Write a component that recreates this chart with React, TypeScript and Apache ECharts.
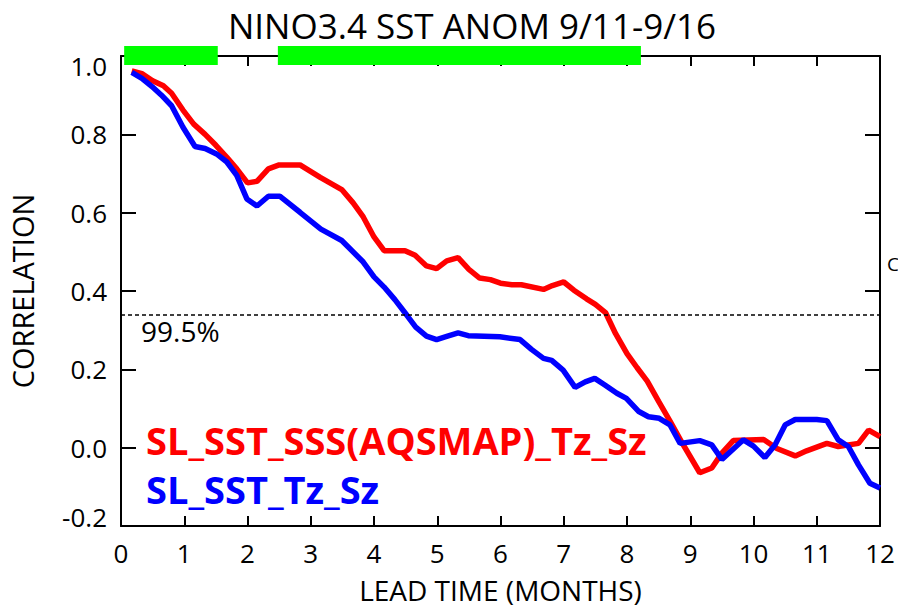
import React, { useEffect, useRef } from "react";
import * as echarts from "echarts";

const TITLE = "NINO3.4 SST ANOM 9/11-9/16";
const X_NAME = "LEAD TIME (MONTHS)";
const Y_NAME = "CORRELATION";
const RED_NAME = "SL_SST_SSS(AQSMAP)_Tz_Sz";
const BLUE_NAME = "SL_SST_Tz_Sz";
const SIG_LEVEL = 0.338;
const SIG_LABEL = "99.5%";

// significant-difference periods (months)
const greenBars: number[][] = [
  [0.05, 1.53],
  [2.48, 8.22],
];

const redSeries: number[][] = [
  [0.17, 0.962], [0.33, 0.955], [0.5, 0.937], [0.67, 0.924], [0.8, 0.905], [0.98, 0.862],
  [1.15, 0.826], [1.33, 0.8], [1.5, 0.772], [1.67, 0.742], [1.83, 0.712], [2.0, 0.676],
  [2.15, 0.68], [2.33, 0.712], [2.5, 0.722], [2.83, 0.722], [3.15, 0.69], [3.49, 0.659],
  [3.67, 0.625], [3.83, 0.589], [4.0, 0.538], [4.16, 0.503], [4.49, 0.503], [4.65, 0.491],
  [4.83, 0.464], [4.99, 0.457], [5.15, 0.477], [5.33, 0.485], [5.5, 0.455], [5.67, 0.433],
  [5.84, 0.429], [6.0, 0.42], [6.18, 0.416], [6.33, 0.416], [6.68, 0.404], [6.82, 0.414],
  [7.0, 0.423], [7.16, 0.402], [7.36, 0.38], [7.5, 0.366], [7.66, 0.345], [7.82, 0.291],
  [8.0, 0.24], [8.16, 0.204], [8.32, 0.17], [8.5, 0.118], [8.68, 0.068], [8.88, 0.01],
  [9.15, -0.064], [9.34, -0.052], [9.5, -0.014], [9.68, 0.018], [10.16, 0.021], [10.37, -0.002],
  [10.66, -0.021], [10.84, -0.008], [11.16, 0.011], [11.34, 0.003], [11.66, 0.011], [11.82, 0.045],
  [12.0, 0.028],
];

const blueSeries: number[][] = [
  [0.17, 0.958], [0.33, 0.943], [0.49, 0.922], [0.64, 0.9], [0.8, 0.873], [0.98, 0.818],
  [1.17, 0.769], [1.33, 0.764], [1.51, 0.75], [1.67, 0.73], [1.83, 0.695], [1.99, 0.635],
  [2.15, 0.617], [2.33, 0.642], [2.51, 0.642], [2.83, 0.601], [3.16, 0.558], [3.49, 0.529],
  [3.83, 0.474], [4.0, 0.436], [4.16, 0.41], [4.33, 0.378], [4.52, 0.338], [4.66, 0.308],
  [4.83, 0.285], [4.99, 0.276], [5.15, 0.284], [5.33, 0.293], [5.49, 0.286], [5.99, 0.283],
  [6.31, 0.276], [6.49, 0.251], [6.68, 0.228], [6.81, 0.223], [6.99, 0.198], [7.18, 0.154],
  [7.34, 0.168], [7.49, 0.177], [7.65, 0.16], [7.84, 0.139], [7.99, 0.126], [8.18, 0.093],
  [8.34, 0.079], [8.51, 0.075], [8.68, 0.058], [8.84, 0.011], [9.15, 0.018], [9.34, 0.007],
  [9.5, -0.03], [9.84, 0.02], [10.0, 0.004], [10.18, -0.025], [10.34, 0.007], [10.5, 0.058],
  [10.66, 0.072], [11.0, 0.072], [11.16, 0.069], [11.34, 0.02], [11.5, 0.003], [11.66, -0.044],
  [11.84, -0.091], [12.0, -0.103],
];

const X_MIN = 0;
const X_MAX = 12;
const X_STEP = 1;
const Y_MIN = -0.2;
const Y_MAX = 1.0;
const Y_STEP = 0.2;

const FONT = "'Open Sans', 'Noto Sans', sans-serif";

export default function App() {
  const ref = useRef<HTMLDivElement>(null);
  useEffect(() => {
    if (!ref.current) return;
    const chart = echarts.init(ref.current, null, { renderer: "svg" });
    const axisLine = { show: true, onZero: false, lineStyle: { color: "#000", width: 2 } };
    const xCommon = {
      type: "value" as const,
      min: X_MIN,
      max: X_MAX,
      interval: X_STEP,
      splitLine: { show: false },
      axisLine,
      axisTick: { show: true, inside: true, length: 10, lineStyle: { color: "#000", width: 2 } },
    };
    const yCommon = {
      type: "value" as const,
      min: Y_MIN,
      max: Y_MAX,
      interval: Y_STEP,
      splitLine: { show: false },
      axisLine,
      axisTick: { show: true, inside: true, length: 15, lineStyle: { color: "#000", width: 2 } },
    };
    const labelStyle = { color: "#000", fontSize: 26, fontFamily: FONT };
    chart.setOption({
      animation: false,
      backgroundColor: "#fff",
      textStyle: { fontFamily: FONT },
      grid: { left: 121, right: 18, top: 56, bottom: 83, containLabel: false },
      xAxis: [
        {
          ...xCommon,
          position: "bottom",
          axisLabel: { show: true, ...labelStyle, margin: 14 },
          name: X_NAME,
          nameLocation: "middle",
          nameGap: 50,
          nameTextStyle: { color: "#000", fontSize: 28, fontFamily: FONT },
        },
        { ...xCommon, position: "top", axisLabel: { show: false } },
      ],
      yAxis: [
        {
          ...yCommon,
          position: "left",
          axisLabel: {
            show: true,
            ...labelStyle,
            margin: 14,
            formatter: (v: number) => {
              const t = v.toFixed(1);
              if (Math.abs(v - Y_MAX) < 1e-9) return "{top|" + t + "}";
              if (Math.abs(v - Y_MIN) < 1e-9) return "{bot|" + t + "}";
              return t;
            },
            rich: {
              top: { ...labelStyle, padding: [20, 0, 0, 0] },
              bot: { ...labelStyle, padding: [0, 0, 18, 0] },
            },
          },
          name: Y_NAME,
          nameLocation: "middle",
          nameGap: 84,
          nameRotate: 90,
          nameTextStyle: { color: "#000", fontSize: 29, fontFamily: FONT },
        },
        { ...yCommon, position: "right", axisLabel: { show: false } },
      ],
      series: [
        {
          type: "line",
          name: RED_NAME,
          data: redSeries,
          showSymbol: false,
          lineStyle: { color: "#ff0000", width: 5.5 },
          itemStyle: { color: "#ff0000" },
          z: 3,
          markLine: {
            silent: true,
            symbol: "none",
            lineStyle: { color: "#000", type: [4, 3], width: 1.5 },
            label: {
              show: true,
              position: "insideStartBottom",
              formatter: SIG_LABEL,
              color: "#000",
              fontSize: 28,
              fontFamily: FONT,
              distance: [20, 2],
            },
            data: [{ yAxis: SIG_LEVEL }],
          },
        },
        {
          type: "line",
          name: BLUE_NAME,
          data: blueSeries,
          showSymbol: false,
          lineStyle: { color: "#0000ff", width: 5.5 },
          itemStyle: { color: "#0000ff" },
          z: 4,
        },
        {
          type: "custom",
          data: greenBars,
          clip: false,
          z: 10,
          encode: { x: [0, 1] },
          renderItem: (params: any, api: any) => {
            const s = api.coord([api.value(0), Y_MAX]);
            const e = api.coord([api.value(1), Y_MAX]);
            return {
              type: "rect",
              shape: { x: s[0], y: s[1] - 10, width: e[0] - s[0], height: 19 },
              style: { fill: "#00ff00" },
            };
          },
        },
      ],
      graphic: [
        {
          type: "text",
          x: 472,
          y: 25,
          style: {
            text: TITLE,
            fill: "#000",
            fontSize: 35,
            fontFamily: FONT,
            textAlign: "center",
            textVerticalAlign: "middle",
          },
        },
        {
          type: "text",
          left: 146,
          top: 421,
          style: { text: RED_NAME, fill: "#ff0000", fontSize: 38, fontWeight: "bold", fontFamily: FONT },
        },
        {
          type: "text",
          left: 146,
          top: 470,
          style: { text: BLUE_NAME, fill: "#0000ff", fontSize: 38, fontWeight: "bold", fontFamily: FONT },
        },
        {
          type: "text",
          left: 887,
          top: 254,
          style: { text: "C", fill: "#000", fontSize: 19, fontFamily: FONT },
        },
      ],
    });
    return () => chart.dispose();
  }, []);
  return (
    <div
      ref={ref}
      style={{ position: "fixed", left: 0, top: 0, width: 898, height: 609, background: "#fff" }}
    />
  );
}
